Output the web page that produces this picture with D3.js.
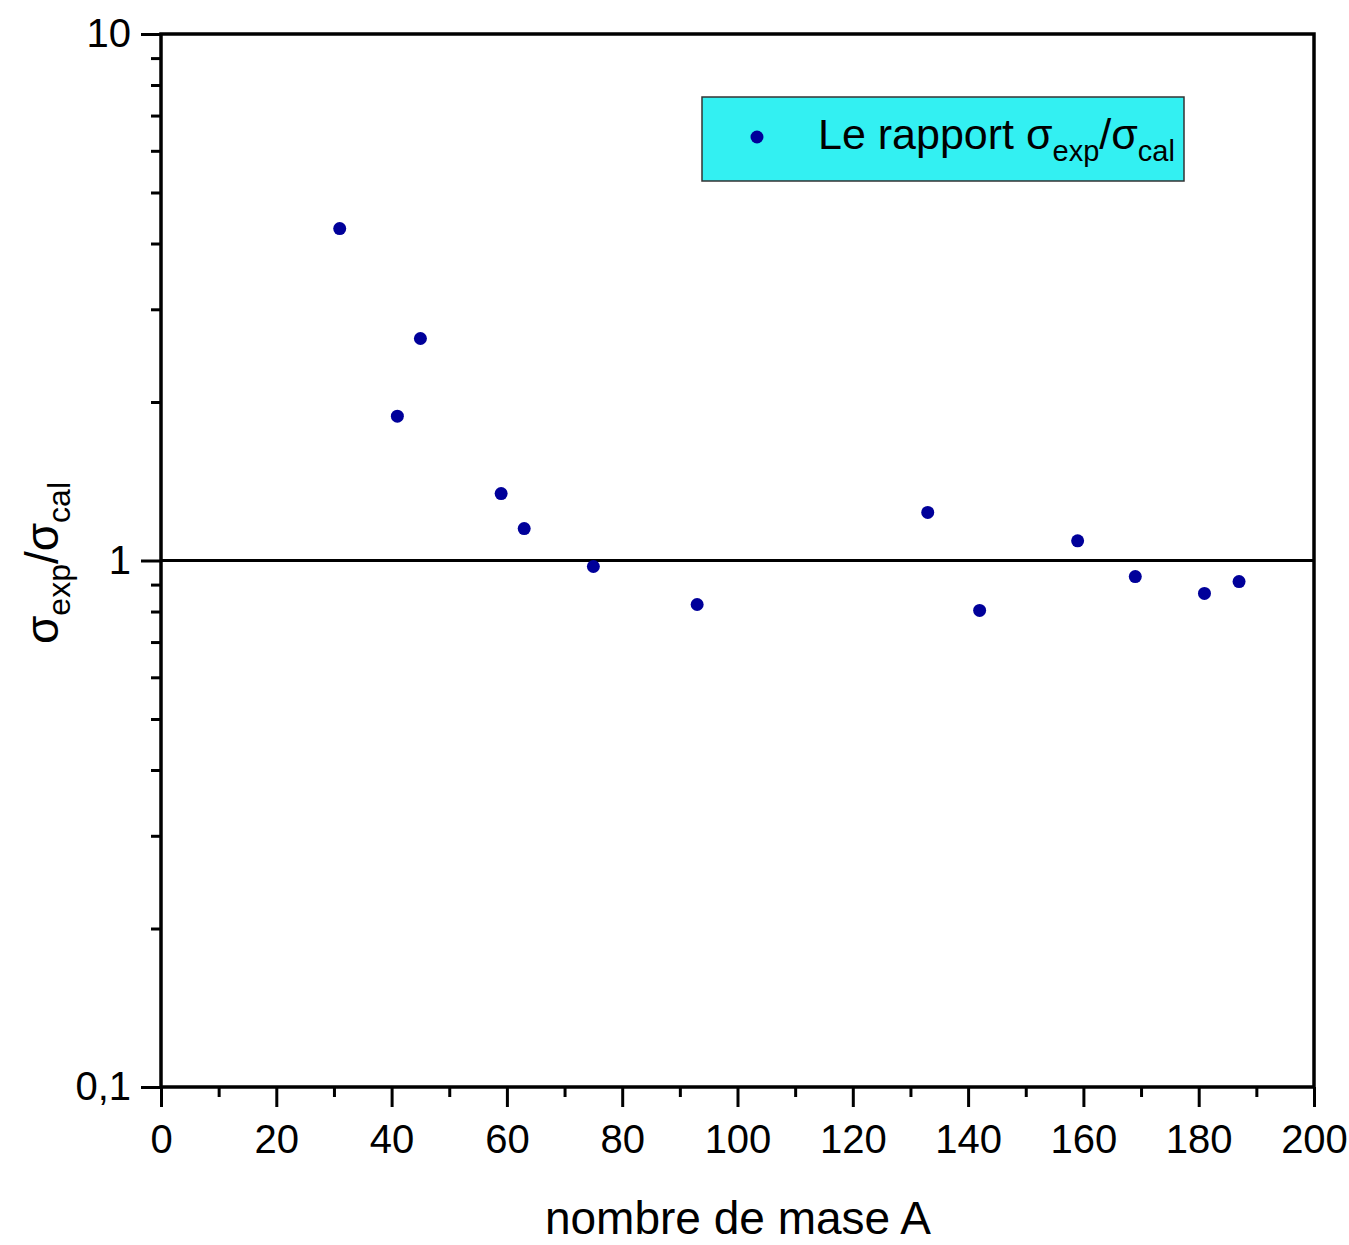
<!DOCTYPE html>
<html>
<head>
<meta charset="utf-8">
<script src="https://cdn.jsdelivr.net/npm/d3@7"></script>
<style>
  body { margin: 0; background: #fff; }
  svg text { font-family: "Liberation Sans", Arial, sans-serif; fill: #000; }
</style>
</head>
<body>
<svg width="1349" height="1245"></svg>
<script>
// values
const massA = [31, 41, 45, 59, 63, 75, 93, 133, 142, 159, 169, 181, 187];
const ratio = [4.27, 1.88, 2.64, 1.34, 1.15, 0.974, 0.825, 1.234, 0.804, 1.09, 0.932, 0.866, 0.912];
const yMajor = [0.1, 1, 10];
const yMajorLabels = ["0,1", "1", "10"];
const xMajor = [0, 20, 40, 60, 80, 100, 120, 140, 160, 180, 200];
const xMinor = [10, 30, 50, 70, 90, 110, 130, 150, 170, 190];
const refLine = 1;

const margin = { top: 34, right: 35, bottom: 158, left: 161 };
const width = 1349 - margin.left - margin.right;
const height = 1245 - margin.top - margin.bottom;

const svg = d3.select("svg");
const g = svg.append("g").attr("transform", `translate(${margin.left},${margin.top})`);

const x = d3.scaleLinear().domain([0, 200]).range([0, width]);
const y = d3.scaleLog().domain([0.1, 10]).range([height, 0]);

// minor y ticks 2..9 in each decade
const yMinor = [];
[0.1, 1].forEach(d => { for (let k = 2; k <= 9; k++) yMinor.push(+(d * k).toFixed(2)); });

const styleAxis = sel => {
  sel.select(".domain").remove();
  sel.selectAll("line").attr("stroke", "#000").attr("stroke-width", 3);
};

// minor ticks
g.append("g").call(d3.axisLeft(y).tickValues(yMinor).tickSize(10).tickFormat(""))
  .call(styleAxis);
g.append("g").attr("transform", `translate(0,${height})`)
  .call(d3.axisBottom(x).tickValues(xMinor).tickSize(10).tickFormat(""))
  .call(styleAxis);

// major ticks
g.append("g")
  .call(d3.axisLeft(y).tickValues(yMajor).tickSize(20).tickPadding(10)
    .tickFormat((d, i) => yMajorLabels[i]))
  .call(styleAxis)
  .selectAll("text").attr("font-size", 40);

g.append("g").attr("transform", `translate(0,${height})`)
  .call(d3.axisBottom(x).tickValues(xMajor).tickSize(20).tickPadding(18))
  .call(styleAxis)
  .selectAll("text").attr("font-size", 40);

// frame
g.append("rect")
  .attr("width", width).attr("height", height)
  .attr("fill", "none").attr("stroke", "#000").attr("stroke-width", 3.5);

// reference line at 1
g.append("line")
  .attr("x1", 0).attr("x2", width)
  .attr("y1", y(refLine)).attr("y2", y(refLine))
  .attr("stroke", "#000").attr("stroke-width", 3);

// points
g.selectAll(".pt").data(massA)
  .enter().append("circle")
  .attr("class", "pt")
  .attr("cx", d => x(d))
  .attr("cy", (d, i) => y(ratio[i]))
  .attr("r", 6.5)
  .attr("fill", "#00009a");

// legend
const leg = svg.append("g").attr("transform", "translate(702,97)");
leg.append("rect").attr("width", 482).attr("height", 84)
  .attr("fill", "#33f0f2").attr("stroke", "#333").attr("stroke-width", 1.5);
leg.append("circle").attr("cx", 55).attr("cy", 40).attr("r", 6.5).attr("fill", "#00009a");
const lt = leg.append("text").attr("x", 116).attr("y", 52).attr("font-size", 43);
lt.append("tspan").text("Le rapport σ");
lt.append("tspan").attr("font-size", 29).attr("dy", 12).text("exp");
lt.append("tspan").attr("dy", -12).text("/σ");
lt.append("tspan").attr("font-size", 29).attr("dy", 12).text("cal");

// axis titles
svg.append("text")
  .attr("x", 738).attr("y", 1234)
  .attr("text-anchor", "middle").attr("font-size", 46)
  .text("nombre de mase A");

const yt = svg.append("text")
  .attr("transform", `translate(58,563) rotate(-90)`)
  .attr("text-anchor", "middle").attr("font-size", 46);
yt.append("tspan").text("σ");
yt.append("tspan").attr("font-size", 32).attr("dy", 12).text("exp");
yt.append("tspan").attr("dy", -12).text("/σ");
yt.append("tspan").attr("font-size", 32).attr("dy", 12).text("cal");
</script>
</body>
</html>
